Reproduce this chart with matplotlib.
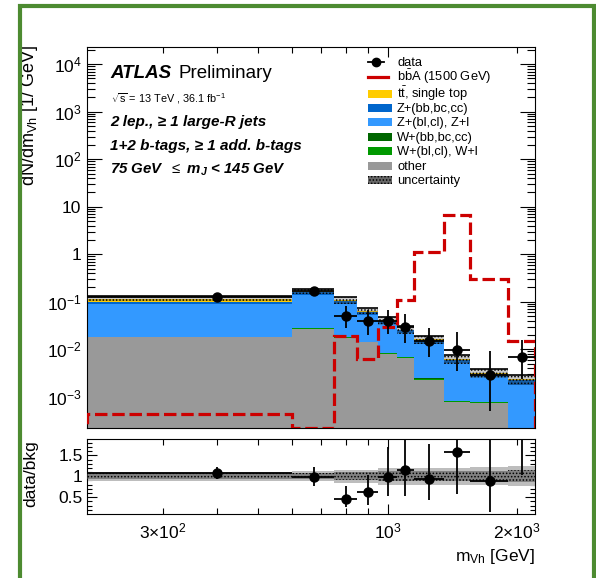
import numpy as np
import matplotlib
matplotlib.use("Agg")
import matplotlib.pyplot as plt
from matplotlib.ticker import FixedLocator, FixedFormatter, LogLocator, NullFormatter, MultipleLocator
from matplotlib.patches import Rectangle
from matplotlib.lines import Line2D

plt.rcParams['font.family'] = ['Liberation Sans', 'DejaVu Sans']
plt.rcParams['mathtext.fontset'] = 'custom'
plt.rcParams['mathtext.rm'] = 'Liberation Sans'
plt.rcParams['mathtext.it'] = 'Liberation Sans:italic'
plt.rcParams['mathtext.bf'] = 'Liberation Sans:bold:italic'
plt.rcParams['hatch.linewidth'] = 0.7

# ---- binning (m_Vh in GeV) ----
bin_edges = [200, 600, 750, 850, 950, 1050, 1150, 1350, 1550, 1900, 2200]

# ---- background components, dN/dm [1/GeV] ----
bkg_other = [0.0182, 0.0273, 0.0176, 0.0143, 0.0081, 0.0067, 0.0023, 0.00076, 0.00075, 0.0001]
bkg_wl    = [0.0001, 0.0001, 0.0001, 0.00008, 0.00005, 0.00004, 0.0001, 0.00004, 0.00001, 0.000005]
bkg_whf   = [0.00005, 0.00005, 0.00004, 0.00003, 0.00002, 0.00002, 0.00005, 0.00002, 0.000005, 0.000005]
bkg_zl    = [0.0702, 0.1142, 0.0700, 0.0385, 0.0254, 0.0147, 0.0106, 0.0044, 0.0019, 0.0017]
bkg_zhf   = [0.0080, 0.0180, 0.0150, 0.0085, 0.0052, 0.0034, 0.0024, 0.0008, 0.0004, 0.0004]
bkg_top   = [0.0200, 0.0080, 0.0045, 0.0028, 0.0016, 0.0010, 0.0006, 0.0002, 0.0001, 0.0001]
bkg_rel_unc = [0.11, 0.12, 0.15, 0.15, 0.20, 0.20, 0.20, 0.20, 0.22, 0.24]

# ---- data ----
data_y      = [0.126, 0.166, 0.0495, 0.0394, 0.0394, 0.0295, 0.0150, 0.00984, 0.00284, 0.00689]
data_err_up = [0.016, 0.037, 0.032, 0.027, 0.029, 0.0265, 0.0136, 0.0127, 0.0063, 0.0087]
data_err_dn = [0.016, 0.037, 0.022, 0.019, 0.018, 0.016, 0.0081, 0.0063, 0.00235, 0.0045]

# ---- signal: bbA (1500 GeV) ----
signal_bbA = [4.35e-4, 2.2e-4, 0.0188, 0.00637, 0.0295, 0.1076, 1.105, 6.62, 0.298, 0.0150]

legend_labels = ['data', r'$\mathrm{b\bar{b}A}$ (1500 GeV)', r'$\mathrm{t\bar{t}}$, single top',
                 'Z+(bb,bc,cc)', 'Z+(bl,cl), Z+l', 'W+(bb,bc,cc)', 'W+(bl,cl), W+l',
                 'other', 'uncertainty']
colors = {'top': '#ffcc00', 'zhf': '#0066cc', 'zl': '#3399ff', 'whf': '#006600',
          'wl': '#009900', 'other': '#999999'}
sig_color = '#cc0000'
band_face = (0.3, 0.3, 0.3, 0.3)

edges = np.asarray(bin_edges, dtype=float)
centers = 0.5 * (edges[:-1] + edges[1:])
halfw = 0.5 * (edges[1:] - edges[:-1])

W, H = 596, 578
def fx(px): return px / W
def fy(py): return 1 - py / H

fig = plt.figure(figsize=(W / 100, H / 100), dpi=100)
ax = fig.add_axes([fx(87), fy(428), fx(535) - fx(87), fy(47) - fy(428)])
rax = fig.add_axes([fx(87), fy(513.5), fx(535) - fx(87), fy(439) - fy(513.5)])

# ---- stacked backgrounds ----
layers = [(bkg_other, colors['other']), (bkg_wl, colors['wl']), (bkg_whf, colors['whf']),
          (bkg_zl, colors['zl']), (bkg_zhf, colors['zhf']), (bkg_top, colors['top'])]
base = np.full(len(centers), 1e-7)
for vals, col in layers:
    top = base + np.asarray(vals)
    ax.stairs(top, edges, baseline=base, fill=True, facecolor=col, edgecolor='none', lw=0, zorder=2)
    base = top
total = base
unc = np.asarray(bkg_rel_unc)

# uncertainty band on the stack
ax.stairs(total * (1 + unc), edges, baseline=total * (1 - unc), fill=True,
          facecolor=band_face, edgecolor='black', hatch='.....', lw=0, zorder=3)
ax.hlines(total * (1 + unc), edges[:-1], edges[1:], color='black', lw=1.2, zorder=3)

# signal
ax.stairs(signal_bbA, edges, baseline=1e-8, fill=False, color=sig_color, lw=2.3,
          linestyle=(0, (3.9, 1.5)), zorder=4)

# data
ax.errorbar(centers, data_y, yerr=[data_err_dn, data_err_up], xerr=halfw, fmt='o',
            color='black', ms=6.5, elinewidth=1.3, capsize=0, zorder=6)

ax.set_xscale('log')
ax.set_yscale('log')
ax.set_xlim(200, 2200)
ax.set_ylim(2.2e-4, 2.3e4)

# ---- ratio panel ----
ratio = np.asarray(data_y) / total
r_up = np.asarray(data_err_up) / total
r_dn = np.asarray(data_err_dn) / total
rax.stairs(1 + unc, edges, baseline=1 - unc, fill=True, facecolor='#bdbdbd',
           edgecolor='none', lw=0, zorder=2)
rax.stairs(1 + 0.6 * unc, edges, baseline=1 - 0.6 * unc, fill=True,
           facecolor=(0.35, 0.35, 0.35, 0.6), edgecolor='black', hatch='.....', lw=0, zorder=3)
rax.errorbar(centers, ratio, yerr=[r_dn, r_up], xerr=halfw, fmt='o', color='black',
             ms=6.5, elinewidth=1.3, capsize=0, zorder=6)
rax.set_xscale('log')
rax.set_xlim(200, 2200)
rax.set_ylim(0.11, 1.89)

# ---- ticks ----
xmajor = [1000]
xminor = [300, 400, 500, 600, 700, 800, 900, 2000]
for a in (ax, rax):
    a.xaxis.set_major_locator(FixedLocator(xmajor))
    a.xaxis.set_minor_locator(FixedLocator(xminor))
    a.tick_params(which='both', direction='in', top=True, right=True, width=0.8, colors='black')
    a.tick_params(axis='x', which='major', length=7.2)
    a.tick_params(axis='x', which='minor', length=4.0)
    for s in a.spines.values():
        s.set_linewidth(0.8)

ax.xaxis.set_major_formatter(NullFormatter())
ax.xaxis.set_minor_formatter(NullFormatter())

xlabels_minor = {300: r'$3{\times}10^{2}$', 2000: r'$2{\times}10^{3}$'}
rax.xaxis.set_major_formatter(FixedFormatter([r'$10^{3}$']))
rax.xaxis.set_minor_formatter(FixedFormatter([xlabels_minor.get(v, '') for v in xminor]))
rax.tick_params(axis='x', which='both', labelsize=12.5, pad=6)

ydec = [1e-3, 1e-2, 1e-1, 1, 10, 1e2, 1e3, 1e4]
ydec_labels = [r'$10^{-3}$', r'$10^{-2}$', r'$10^{-1}$', '1', '10', r'$10^{2}$', r'$10^{3}$', r'$10^{4}$']
ax.yaxis.set_major_locator(FixedLocator(ydec))
ax.yaxis.set_major_formatter(FixedFormatter(ydec_labels))
ax.yaxis.set_minor_locator(LogLocator(base=10, subs=np.arange(2, 10), numticks=30))
ax.yaxis.set_minor_formatter(NullFormatter())
ax.tick_params(axis='y', which='major', length=10.8, labelsize=12.5, pad=4)
ax.tick_params(axis='y', which='minor', length=5.8)

rax.yaxis.set_major_locator(FixedLocator([0.5, 1.0, 1.5]))
rax.yaxis.set_major_formatter(FixedFormatter(['0.5', '1', '1.5']))
rax.yaxis.set_minor_locator(MultipleLocator(0.1))
rax.tick_params(axis='y', which='major', length=7.2, labelsize=12.5, pad=3)
rax.tick_params(axis='y', which='minor', length=3.6)

# ---- axis titles ----
fig.text(fx(29), fy(45), r'dN/dm$_{\mathrm{Vh}}$ [1/ GeV]', rotation=90, ha='center', va='top', fontsize=13)
fig.text(fx(31), fy(474), 'data/bkg', rotation=90, ha='center', va='center', fontsize=12.5)
fig.text(fx(535), fy(556), r'm$_{\mathrm{Vh}}$ [GeV]', ha='right', va='center', fontsize=12.5)

# ---- labels ----
fig.text(fx(110), fy(78), 'ATLAS', fontsize=13.5, weight='bold', style='italic', va='baseline')
fig.text(fx(179), fy(78), 'Preliminary', fontsize=13.5, va='baseline')
fig.text(fx(111), fy(103), r'$\sqrt{\mathrm{s}}$ = 13 TeV , 36.1 fb$^{-1}$', fontsize=7.8, va='baseline')
fig.text(fx(110), fy(126), '2 lep., \u2265 1 large-R jets', fontsize=11, weight='bold', style='italic', va='baseline')
fig.text(fx(110), fy(150), '1+2 b-tags, \u2265 1 add. b-tags', fontsize=11, weight='bold', style='italic', va='baseline')
fig.text(fx(110), fy(174), r'75 GeV  $\leq$ $\mathbf{m}_{\mathbf{J}}$ < 145 GeV', fontsize=10.8, weight='bold', style='italic', va='baseline')

# ---- legend (fixed rows) ----
row_y = [62.0, 77.3, 94.2, 108.0, 122.0, 136.5, 151.0, 165.5, 180.0]
hx0, hx1, tx = 368, 392, 397
box_h = 8
for i, lab in enumerate(legend_labels):
    y = row_y[i]
    if i == 0:
        fig.add_artist(Line2D([fx(hx0), fx(384)], [fy(y), fy(y)], color='black', lw=1.3,
                              transform=fig.transFigure))
        fig.add_artist(Line2D([fx(376)], [fy(y)], color='black', marker='o', ms=6,
                              transform=fig.transFigure))
    elif i == 1:
        fig.add_artist(Line2D([fx(hx0), fx(388)], [fy(y), fy(y)], color=sig_color, lw=2.3,
                              transform=fig.transFigure))
    else:
        face = [colors['top'], colors['zhf'], colors['zl'], colors['whf'], colors['wl'],
                colors['other'], (0.3, 0.3, 0.3, 0.85)][i - 2]
        kw = dict(hatch='.....', edgecolor='black') if i == 8 else dict(edgecolor='none')
        fig.add_artist(Rectangle((fx(hx0), fy(y + box_h / 2)), fx(hx1) - fx(hx0), box_h / H,
                                 transform=fig.transFigure, facecolor=face, lw=0, **kw))
    fig.text(fx(tx), fy(y + 4.2), lab, fontsize=9.3, va='baseline', ha='left')

# ---- frame ----
fig.add_artist(Rectangle((fx(19.5), fy(640)), fx(594) - fx(19.5), fy(6) - fy(640),
                         transform=fig.transFigure, fill=False, edgecolor='#4d8b31',
                         lw=3.0, clip_on=False, zorder=20))

fig.savefig('out.png', dpi=100)
